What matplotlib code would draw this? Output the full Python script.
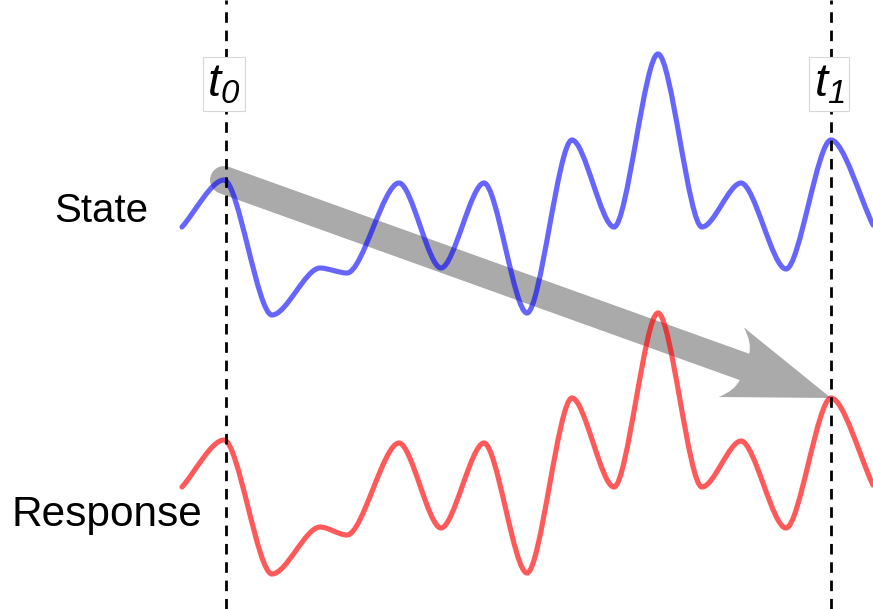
import numpy as np
import matplotlib
matplotlib.use("Agg")
import matplotlib.pyplot as plt
from matplotlib.path import Path
from matplotlib.patches import PathPatch

plt.rcParams["font.family"] = ["Liberation Sans", "DejaVu Sans"]
plt.rcParams["mathtext.fontset"] = "custom"
plt.rcParams["mathtext.it"] = "Liberation Sans:italic"
plt.rcParams["mathtext.rm"] = "Liberation Sans:italic"

# ---- data (screen-like units, y grows downward) ----
time = [182, 224, 272, 320, 347, 399, 441, 484, 527, 572, 614, 658, 702, 741, 786, 831, 873]
state = [227, 180, 315, 268, 273, 183, 268, 183, 313, 140, 227, 54, 227, 183, 269, 140, 225]
response = [487, 440, 574, 527, 535, 443, 528, 443, 573, 398, 487, 313, 487, 441, 528, 398, 485]

t_marks = [226, 831]
t_labels = [r"$t_\mathit{0}$", r"$t_\mathit{1}$"]
row_labels = ["State", "Response"]
t0_idx, t1_idx = 1, 15


def smooth_path(xs, ys, k=0.3):
    verts = [(xs[0], ys[0])]
    codes = [Path.MOVETO]
    n = len(xs)
    for i in range(n - 1):
        x0, y0, x1, y1 = xs[i], ys[i], xs[i + 1], ys[i + 1]
        dx = x1 - x0
        c1 = (x0 + k * dx, y0 + k * (y1 - y0)) if i == 0 else (x0 + k * dx, y0)
        c2 = (x1 - k * dx, y1 - k * (y1 - y0)) if i == n - 2 else (x1 - k * dx, y1)
        verts += [c1, c2, (x1, y1)]
        codes += [Path.CURVE4] * 3
    return Path(verts, codes)


fig = plt.figure(figsize=(8.73, 6.09), dpi=100)
ax = fig.add_axes([0, 0, 1, 1])
ax.set_xlim(0, 873)
ax.set_ylim(609, 0)
ax.axis("off")

# ---- arrow from State at t0 to Response at t1 ----
gray = "#aaaaaa"
p0 = np.array([time[t0_idx], state[t0_idx]], float)
p1 = np.array([time[t1_idx], response[t1_idx]], float)
u = (p1 - p0) / np.linalg.norm(p1 - p0)
nrm = np.array([u[1], -u[0]])
head_len, head_half, neck_len, neck_half = 106, 37, 92, 14
shaft_end = p1 - 60 * u
ax.plot([p0[0], shaft_end[0]], [p0[1], shaft_end[1]], color=gray,
        lw=28 * 0.72, solid_capstyle="round", zorder=1)
barb_a = p1 - head_len * u + head_half * nrm
barb_b = p1 - head_len * u - head_half * nrm
neck_a = p1 - neck_len * u + neck_half * nrm
neck_b = p1 - neck_len * u - neck_half * nrm
ctrl_a = (barb_a + neck_a) / 2 + 6 * u
ctrl_b = (barb_b + neck_b) / 2 + 6 * u
head = Path([tuple(p1), tuple(barb_a), tuple(ctrl_a), tuple(neck_a),
             tuple(neck_b), tuple(ctrl_b), tuple(barb_b), tuple(p1)],
            [Path.MOVETO, Path.LINETO, Path.CURVE3, Path.CURVE3,
             Path.LINETO, Path.CURVE3, Path.CURVE3, Path.CLOSEPOLY])
ax.add_patch(PathPatch(head, facecolor=gray, edgecolor="none", zorder=1))

# ---- curves ----
ax.add_patch(PathPatch(smooth_path(time, state), facecolor="none",
                       edgecolor="#0000ff", alpha=0.6, lw=3.7,
                       capstyle="round", zorder=2))
ax.add_patch(PathPatch(smooth_path(time, response), facecolor="none",
                       edgecolor="#ff0000", alpha=0.65, lw=3.7,
                       capstyle="round", zorder=2))

# ---- dashed time markers ----
for xm, lab in zip(t_marks, t_labels):
    ax.axvline(xm, color="black", lw=2.0, linestyle=(0, (3.8, 2.8)), zorder=3)
    ax.text(xm - 2, 84, lab, fontsize=34, ha="center", va="center", zorder=4,
            bbox=dict(boxstyle="square,pad=0.1", facecolor="white",
                      edgecolor="#d8d8d8", lw=0.8))

# ---- row labels ----
ax.text(101, 222, row_labels[0], fontsize=29, ha="center", va="baseline")
ax.text(107, 526, row_labels[1], fontsize=30.5, ha="center", va="baseline")

fig.savefig("out.png", dpi=100)
